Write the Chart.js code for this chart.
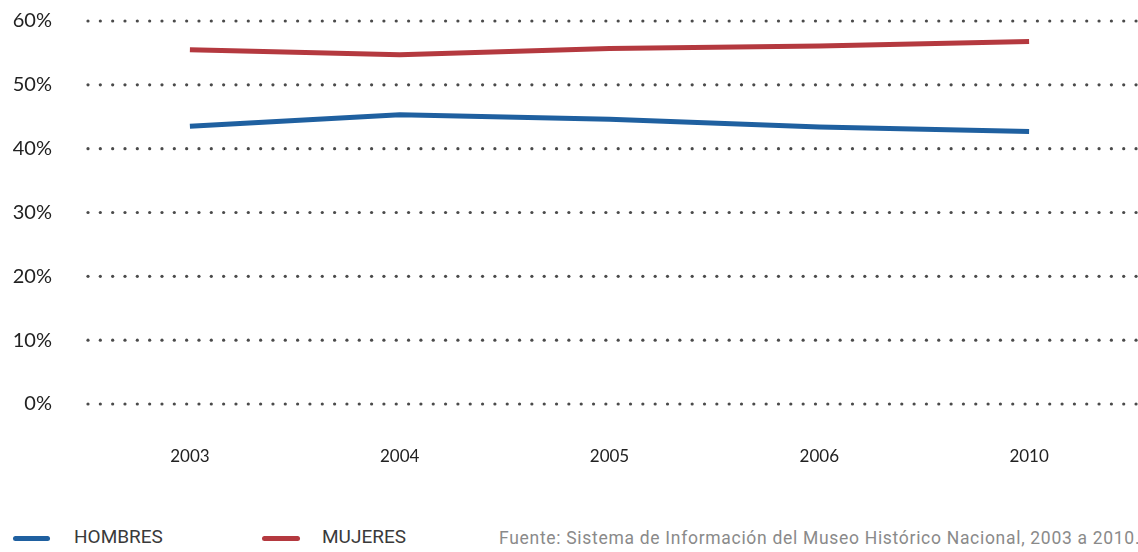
<!DOCTYPE html>
<html>
<head>
<meta charset="utf-8">
<script src="https://cdn.jsdelivr.net/npm/chart.js@4/dist/chart.umd.min.js"></script>
<style>
  html, body { margin: 0; padding: 0; background: #fff; }
  body { width: 1138px; height: 552px; position: relative; overflow: hidden; }
  #wrap { position: absolute; left: 0; top: -16px; width: 1138px; height: 506px; }
  .leg { position: absolute; top: 526px; font-family: Roboto, sans-serif; font-size: 19px; color: #3a3a3a; line-height: 22px; white-space: nowrap; }
  .sw { position: absolute; top: 536px; height: 5px; border-radius: 3px; }
  #src { position: absolute; top: 528px; left: 499px; font-family: Roboto, "Open Sans", sans-serif; font-size: 17.5px; color: #8a8a8a; letter-spacing: 0.7px; white-space: nowrap; }
</style>
</head>
<body>
<div id="wrap"><canvas id="c"></canvas></div>
<div class="sw" id="sw0" style="left:13px;width:37px;"></div>
<div class="leg" id="lg0" style="left:74px;"></div>
<div class="sw" id="sw1" style="left:262px;width:38px;"></div>
<div class="leg" id="lg1" style="left:322px;"></div>
<div id="src">Fuente: Sistema de Información del Museo Histórico Nacional, 2003 a 2010.</div>
<script>
const categories = ["2003", "2004", "2005", "2006", "2010"];
const hombres = [43.5, 45.3, 44.6, 43.4, 42.7];
const mujeres = [55.5, 54.7, 55.7, 56.1, 56.8];
const seriesNames = ["HOMBRES", "MUJERES"];
const seriesColors = ["#1f60a0", "#b4393f"];
const yTicks = [0, 10, 20, 30, 40, 50, 60];

document.getElementById('sw0').style.background = seriesColors[0];
document.getElementById('sw1').style.background = seriesColors[1];
document.getElementById('lg0').textContent = seriesNames[0];
document.getElementById('lg1').textContent = seriesNames[1];

const dotGrid = {
  id: 'dotGrid',
  beforeDatasetsDraw(chart) {
    const ctx = chart.ctx;
    const y = chart.scales.y;
    const left = chart.chartArea.left + 3;
    const right = 1138;
    ctx.save();
    ctx.fillStyle = '#4a4a4a';
    y.ticks.forEach(t => {
      const py = y.getPixelForValue(t.value);
      for (let x = left; x <= right; x += 12.33) {
        ctx.beginPath();
        ctx.arc(x, py, 1.6, 0, Math.PI * 2);
        ctx.fill();
      }
    });
    ctx.restore();
  }
};

new Chart(document.getElementById('c'), {
  type: 'line',
  data: {
    labels: categories,
    datasets: [
      { label: seriesNames[0], data: hombres, borderColor: seriesColors[0], borderWidth: 5, pointRadius: 0, tension: 0, borderCapStyle: 'butt' },
      { label: seriesNames[1], data: mujeres, borderColor: seriesColors[1], borderWidth: 5, pointRadius: 0, tension: 0, borderCapStyle: 'butt' }
    ]
  },
  options: {
    responsive: true,
    maintainAspectRatio: false,
    animation: false,
    layout: { padding: { left: 10, right: 4, top: 0, bottom: 0 } },
    plugins: { legend: { display: false }, tooltip: { enabled: false } },
    scales: {
      x: {
        offset: true,
        grid: { display: false },
        border: { display: false },
        ticks: { color: '#222', font: { family: 'Lato, "Open Sans", sans-serif', size: 17 }, padding: 34, maxRotation: 0 },
        afterFit(s) { s.height = 86; }
      },
      y: {
        min: 0, max: 60,
        afterBuildTicks(s) { s.ticks = yTicks.map(v => ({ value: v })); },
        grid: { display: false },
        border: { display: false },
        ticks: { color: '#222', font: { family: 'Lato, "Open Sans", sans-serif', size: 20 }, padding: 25, callback: v => v + '%' },
        afterFit(s) { s.width = 75; }
      }
    }
  },
  plugins: [dotGrid]
});
</script>
</body>
</html>
